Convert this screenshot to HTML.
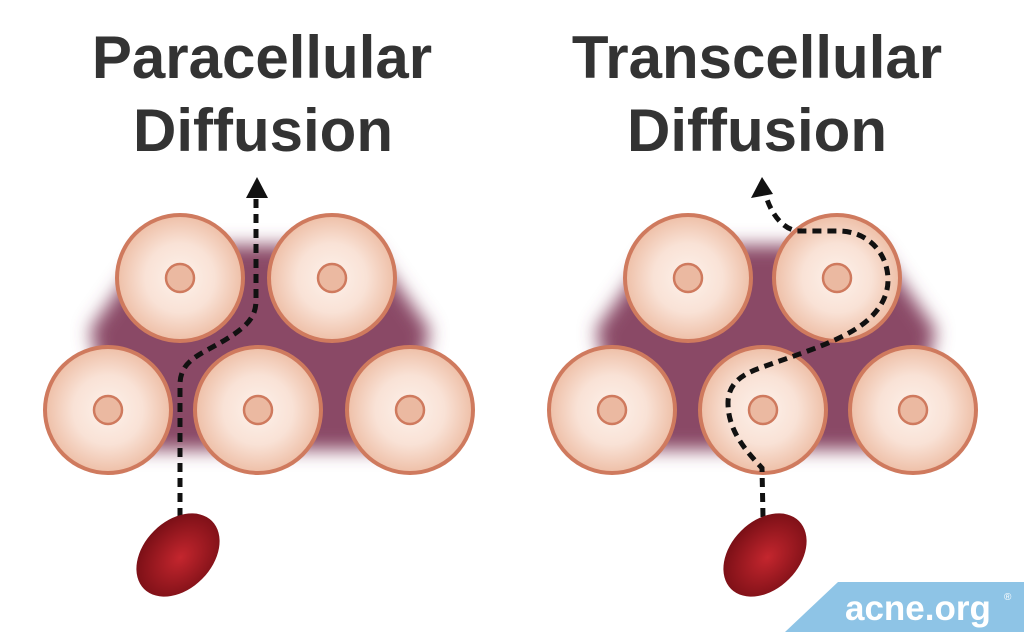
<!DOCTYPE html>
<html><head><meta charset="utf-8"><style>
html,body{margin:0;padding:0;background:#fff;width:1024px;height:632px;overflow:hidden}
svg{display:block}
</style></head><body>
<svg width="1024" height="632" viewBox="0 0 1024 632" xmlns="http://www.w3.org/2000/svg">
<defs>
<radialGradient id="cell" cx="50%" cy="50%" r="50%">
<stop offset="0" stop-color="#fdf1ea"/><stop offset="0.55" stop-color="#f9e2d6"/><stop offset="1" stop-color="#eebfa7"/>
</radialGradient>
<radialGradient id="rbc" cx="50%" cy="55%" r="55%">
<stop offset="0" stop-color="#c4262e"/><stop offset="1" stop-color="#7a0f16"/>
</radialGradient>
<filter id="blur" x="-20%" y="-20%" width="140%" height="140%"><feGaussianBlur stdDeviation="9"/></filter>
<g id="cellg">
<circle r="63" fill="url(#cell)" stroke="#cf7a5e" stroke-width="4"/>
<circle r="14" fill="#ebb9a1" stroke="#cf7a5e" stroke-width="2.5"/>
</g>
</defs>
<g font-family="'Liberation Sans',sans-serif" font-weight="bold" font-size="60" fill="#333" text-anchor="middle">
<text x="262" y="78">Paracellular</text>
<text x="263" y="151">Diffusion</text>
<text x="757" y="78">Transcellular</text>
<text x="757" y="151">Diffusion</text>
</g>
<!-- left panel -->
<polygon points="150,245 370,245 430,330 400,450 120,450 90,330" fill="#8a4866" filter="url(#blur)"/>
<use href="#cellg" x="180" y="278"/><use href="#cellg" x="332" y="278"/>
<use href="#cellg" x="108" y="410"/><use href="#cellg" x="258" y="410"/><use href="#cellg" x="410" y="410"/>
<path d="M180,517 L180,385 C180,360 200,355 225,340 C250,325 256,315 256,300 L256,198" fill="none" stroke="#111" stroke-width="5" stroke-dasharray="9,6"/>
<polygon points="257,177 246,198 268,198" fill="#111"/>
<ellipse cx="178" cy="555" rx="48" ry="34" transform="rotate(-45 178 555)" fill="url(#rbc)"/>
<!-- right panel -->
<polygon points="656,245 876,245 936,330 906,450 626,450 596,330" fill="#8a4866" filter="url(#blur)"/>
<use href="#cellg" x="688" y="278"/><use href="#cellg" x="837" y="278"/>
<use href="#cellg" x="612" y="410"/><use href="#cellg" x="763" y="410"/><use href="#cellg" x="913" y="410"/>
<path d="M763,517 L762,468 C745,450 728,430 728,403 C728,385 740,375 760,368 C790,357 820,348 845,335 C875,320 888,300 888,280 C888,255 870,232 840,231 L797,231 C780,228 770,210 766,196" fill="none" stroke="#111" stroke-width="5" stroke-dasharray="9,6"/>
<polygon points="762,177 751,198 773,194" fill="#111"/>
<ellipse cx="765" cy="555" rx="48" ry="34" transform="rotate(-45 765 555)" fill="url(#rbc)"/>
<!-- logo -->
<polygon points="838,582 1024,582 1024,632 785,632" fill="#8ec4e6"/>
<text x="845" y="620" font-family="'Liberation Sans',sans-serif" font-weight="bold" font-size="35" fill="#fff">acne.org</text>
<text x="1004" y="600" font-family="'Liberation Sans',sans-serif" font-size="10" fill="#fff">®</text>
</svg>
</body></html>
